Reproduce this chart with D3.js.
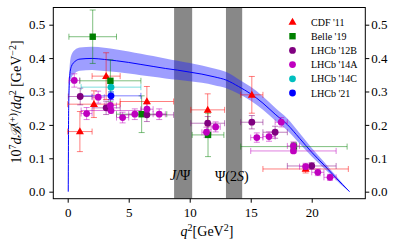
<!DOCTYPE html>
<html><head><meta charset="utf-8">
<script src="https://cdn.jsdelivr.net/npm/d3@7"></script>
<style>body{margin:0;background:#fff}svg{display:block}text{font-family:"Liberation Serif","DejaVu Serif",serif}</style>
</head><body>
<svg id="c" width="399" height="247"></svg>
<script>
// ---- theory curve ----
const thQ2 = [0.045,0.08,0.15,0.3,0.6,1,2,3,4,5,6,7,8,9,10,11,12,13,14,15,16,17,18,19,20,21,22,22.5,23.1];
const thMid = [0,0.25,0.34,0.375,0.39,0.397,0.399,0.396,0.392,0.387,0.381,0.375,0.369,0.364,0.358,0.352,0.344,0.334,0.315,0.293,0.265,0.232,0.201,0.16,0.118,0.08,0.041,0.022,0];
const thUp  = [0,0.27,0.37,0.409,0.425,0.432,0.434,0.431,0.426,0.42,0.413,0.406,0.399,0.392,0.385,0.378,0.369,0.358,0.337,0.314,0.285,0.251,0.219,0.176,0.131,0.09,0.047,0.026,0];
const thLo  = [0,0.23,0.31,0.341,0.355,0.362,0.364,0.361,0.358,0.354,0.349,0.344,0.339,0.335,0.331,0.326,0.319,0.31,0.293,0.272,0.245,0.213,0.183,0.144,0.105,0.07,0.035,0.018,0];

// ---- resonance vetoes ----
const vetoLo = [8.72, 12.97];
const vetoHi = [10.2, 14.3];

// ---- experimental data ----
const cdfLo = [0,0,2,4.3,10.09,14.18,16];
const cdfHi = [2,4.3,4.3,8.68,12.86,16,23];
const cdfVal = [0.18,0.262,0.346,0.27,0.245,0.29,0.068];
const cdfErr = [0.06,0.04,0.07,0.045,0.048,0.055,0.012];

const belleLo = [0.1,1,4,10.2,14.18];
const belleHi = [4,6,8.12,12.8,22.9];
const belleVal = [0.464,0.332,0.232,0.17,0.135];
const belleErr = [0.08,0.063,0.055,0.065,0.012];

const l12Lo = [0.05,2,4.3,10.09,14.18,16,18];
const l12Hi = [2,4.3,8.68,12.86,16,18,22];
const l12Val = [0.285,0.251,0.23,0.205,0.208,0.178,0.077];
const l12Err = [0.025,0.02,0.02,0.02,0.02,0.018,0.01];

const l14aLo = [0.1,1.1,2,3,4,5,6,7,11,11.75,15,16,17,18,19,20,21,1.1,15];
const l14aHi = [0.98,2,3,4,5,6,7,8,11.75,12.5,16,17,18,19,20,21,22,6,22];
const l14aVal = [0.333,0.234,0.283,0.258,0.222,0.232,0.247,0.232,0.178,0.194,0.162,0.165,0.208,0.137,0.075,0.058,0.043,0.243,0.122];
const l14aErr = [0.02,0.018,0.018,0.018,0.016,0.016,0.016,0.016,0.015,0.015,0.014,0.014,0.014,0.012,0.01,0.01,0.009,0.008,0.006];

const l14cLo = [1.1], l14cHi = [6], l14cVal = [0.313], l14cErr = [0.015];
const l21Lo = [1.1], l21Hi = [6], l21Val = [0.287], l21Err = [0.012];

const legendNames = ["CDF '11","Belle '19","LHCb '12B","LHCb '14A","LHCb '14C","LHCb '21"];
const xTicks = [0,5,10,15,20];
const yTicks = [0,0.1,0.2,0.3,0.4,0.5];

// ---- drawing ----
const svg = d3.select("#c");
const L=53.3, R=365.3, T=7.5, B=198.7;
const x = d3.scaleLinear().domain([-1.18,24.39]).range([L,R]);
const y = d3.scaleLinear().domain([-0.021,0.5515]).range([B,T]);

const clip = svg.append("defs").append("clipPath").attr("id","pc").append("rect")
  .attr("x",L).attr("y",T).attr("width",R-L).attr("height",B-T);
const g = svg.append("g").attr("clip-path","url(#pc)");

// vetoes
g.selectAll("rect.veto").data(vetoLo).enter().append("rect")
  .attr("x",(d)=>x(d)).attr("width",(d,i)=>x(vetoHi[i])-x(d))
  .attr("y",T).attr("height",B-T).attr("fill","#888888");

// band
const th = thQ2.map((q,i)=>({q,m:thMid[i],u:thUp[i],l:thLo[i]}));
g.append("path").datum(th)
  .attr("d", d3.area().x(d=>x(d.q)).y0(d=>y(d.l)).y1(d=>y(d.u)).curve(d3.curveMonotoneX))
  .attr("fill","rgba(40,40,255,0.45)");
g.append("path").datum(th)
  .attr("d", d3.line().x(d=>x(d.q)).y(d=>y(d.m)).curve(d3.curveMonotoneX))
  .attr("fill","none").attr("stroke","#0000ff").attr("stroke-width",1);

// text labels
const jt = svg.append("text").attr("x",170).attr("y",180).attr("font-size",14);
jt.append("tspan").attr("font-style","italic").text("J");
jt.append("tspan").text("/Ψ");
const pt = svg.append("text").attr("x",215).attr("y",181).attr("font-size",14);
pt.append("tspan").text("Ψ(2");
pt.append("tspan").attr("font-style","italic").text("S");
pt.append("tspan").text(")");

const sets = [
  {lo:cdfLo,hi:cdfHi,v:cdfVal,e:cdfErr,c:"#ff0000",m:"tri"},
  {lo:belleLo,hi:belleHi,v:belleVal,e:belleErr,c:"#008000",m:"sq"},
  {lo:l12Lo,hi:l12Hi,v:l12Val,e:l12Err,c:"#800080",m:"ci"},
  {lo:l14aLo,hi:l14aHi,v:l14aVal,e:l14aErr,c:"#bf00bf",m:"ci"},
  {lo:l14cLo,hi:l14cHi,v:l14cVal,e:l14cErr,c:"#00bfbf",m:"ci"},
  {lo:l21Lo,hi:l21Hi,v:l21Val,e:l21Err,c:"#0000ff",m:"ci"}
];
const cap=3;
function marker(sel, type, cx, cy, col){
  if(type==="tri"){
    sel.append("path").attr("d",`M${cx},${cy-4.2}L${cx+4},${cy+2.8}L${cx-4},${cy+2.8}Z`).attr("fill",col);
  } else if(type==="sq"){
    sel.append("rect").attr("x",cx-3.2).attr("y",cy-3.2).attr("width",6.4).attr("height",6.4).attr("fill",col);
  } else {
    sel.append("circle").attr("cx",cx).attr("cy",cy).attr("r",3.4).attr("fill",col);
  }
}
const dg = svg.append("g");
sets.forEach(s=>{
  const eg = dg.append("g").attr("stroke",s.c).attr("stroke-opacity",0.5).attr("stroke-width",1).attr("fill","none");
  s.v.forEach((v,i)=>{
    const xc = x((s.lo[i]+s.hi[i])/2), x0=x(s.lo[i]), x1=x(s.hi[i]);
    const yc=y(v), y0=y(v-s.e[i]), y1=y(v+s.e[i]);
    eg.append("line").attr("x1",x0).attr("x2",x1).attr("y1",yc).attr("y2",yc);
    eg.append("line").attr("x1",xc).attr("x2",xc).attr("y1",y0).attr("y2",y1);
    [x0,x1].forEach(xx=>eg.append("line").attr("x1",xx).attr("x2",xx).attr("y1",yc-cap).attr("y2",yc+cap));
    [y0,y1].forEach(yy=>eg.append("line").attr("x1",xc-cap).attr("x2",xc+cap).attr("y1",yy).attr("y2",yy));
  });
});
sets.forEach(s=>{
  s.v.forEach((v,i)=>marker(dg,s.m,x((s.lo[i]+s.hi[i])/2),y(v),s.c));
});

// frame and axes
svg.append("rect").attr("x",L).attr("y",T).attr("width",R-L).attr("height",B-T)
  .attr("fill","none").attr("stroke","#000").attr("stroke-width",1);

function styleAxis(a){
  a.select(".domain").remove();
  a.selectAll("text").attr("font-family","Liberation Serif, serif").attr("font-size",13).attr("fill","#000");
  a.selectAll("line").attr("stroke","#000");
}
svg.append("g").attr("transform",`translate(0,${B})`)
  .call(d3.axisBottom(x).tickValues(xTicks).tickFormat(d3.format("d")).tickSize(4).tickPadding(5))
  .call(styleAxis);
svg.append("g").attr("transform",`translate(${L},0)`)
  .call(d3.axisLeft(y).tickValues(yTicks).tickFormat(d3.format(".1f")).tickSize(4).tickPadding(4))
  .call(styleAxis);
svg.append("g").attr("transform",`translate(${R},0)`)
  .call(d3.axisRight(y).tickValues(yTicks).tickFormat(d3.format(".1f")).tickSize(4).tickPadding(2))
  .call(styleAxis);

// axis labels
const xl = svg.append("text").attr("x",207).attr("y",236).attr("text-anchor","middle").attr("font-size",14);
xl.append("tspan").attr("font-style","italic").text("q");
xl.append("tspan").attr("dy",-5).attr("font-size",10).text("2");
xl.append("tspan").attr("dy",5).text("[GeV");
xl.append("tspan").attr("dy",-5).attr("font-size",10).text("2");
xl.append("tspan").attr("dy",5).text("]");

const yl = svg.append("text").attr("transform","translate(21,102) rotate(-90)").attr("text-anchor","middle").attr("font-size",14);
yl.append("tspan").text("10");
yl.append("tspan").attr("dy",-5).attr("font-size",10).text("7");
yl.append("tspan").attr("dy",5).attr("font-style","italic").text("d");
yl.append("tspan").attr("font-style","italic").text("ℬ");
yl.append("tspan").attr("dy",-5).attr("font-size",10).text("(+)");
yl.append("tspan").attr("dy",5).text("/");
yl.append("tspan").attr("font-style","italic").text("dq");
yl.append("tspan").attr("dy",-5).attr("font-size",10).text("2");
yl.append("tspan").attr("dy",5).text(" [GeV");
yl.append("tspan").attr("dy",-5).attr("font-size",10).text("−2");
yl.append("tspan").attr("dy",5).text("]");

// legend
const lg = svg.append("g");
legendNames.forEach((n,i)=>{
  const cy = 22 + i*14.2;
  marker(lg, sets[i].m, 292.5, cy, sets[i].c);
  lg.append("text").attr("x",311).attr("y",cy+3.5).attr("font-size",10).text(n);
});
</script>
</body></html>
